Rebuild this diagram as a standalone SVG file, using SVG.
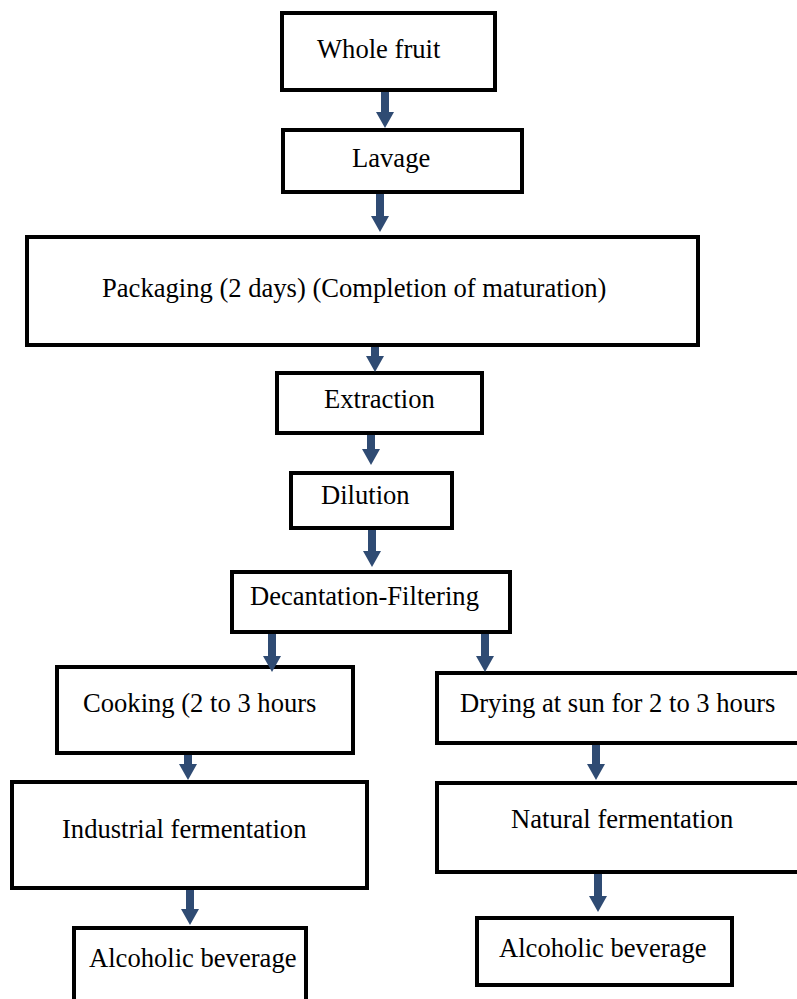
<svg xmlns="http://www.w3.org/2000/svg" width="797" height="999" viewBox="0 0 797 999">
<style>
  .box { fill: #ffffff; stroke: #000000; stroke-width: 4; }
  .lbl { font-family: "Liberation Serif", "Times New Roman", serif; font-size: 26.6px; fill: #000000; }
  .arr { stroke: #2F4B73; stroke-width: 8; fill: none; }
</style>
<defs>
  <marker id="head" markerUnits="userSpaceOnUse" viewBox="0 0 16 18" refX="1" refY="9" markerWidth="16" markerHeight="18" orient="auto">
    <path d="M0,0 L16,9 L0,18 z" fill="#2F4B73"/>
  </marker>
</defs>
<rect width="797" height="999" fill="#ffffff"/>
<g id="n-whole"><rect class="box" x="282" y="13" width="213" height="77"/><text class="lbl" x="317" y="58">Whole fruit</text></g>
<g id="n-lavage"><rect class="box" x="283" y="130" width="239" height="62"/><text class="lbl" x="352" y="167">Lavage</text></g>
<g id="n-packaging"><rect class="box" x="27" y="237" width="671" height="108"/><text class="lbl" x="102" y="297">Packaging (2 days) (Completion of maturation)</text></g>
<g id="n-extraction"><rect class="box" x="277" y="373" width="205" height="60"/><text class="lbl" x="324" y="408">Extraction</text></g>
<g id="n-dilution"><rect class="box" x="291" y="473" width="161" height="55"/><text class="lbl" x="321" y="504">Dilution</text></g>
<g id="n-decantation"><rect class="box" x="232" y="572" width="278" height="60"/><text class="lbl" x="250" y="605">Decantation-Filtering</text></g>
<g id="n-cooking"><rect class="box" x="57" y="667" width="296" height="86"/><text class="lbl" x="83" y="712">Cooking (2 to 3 hours</text></g>
<g id="n-drying"><rect class="box" x="437" y="673" width="380" height="70"/><text class="lbl" x="460" y="712">Drying at sun for 2 to 3 hours</text></g>
<g id="n-industrial"><rect class="box" x="12" y="782" width="355" height="106"/><text class="lbl" x="62" y="838">Industrial fermentation</text></g>
<g id="n-natural"><rect class="box" x="437" y="783" width="380" height="89"/><text class="lbl" x="511" y="828">Natural fermentation</text></g>
<g id="n-alc-left"><rect class="box" x="74" y="928" width="232" height="100"/><text class="lbl" x="89" y="967">Alcoholic beverage</text></g>
<g id="n-alc-right"><rect class="box" x="477" y="918" width="255" height="67"/><text class="lbl" x="499" y="957">Alcoholic beverage</text></g>
<g id="connectors">
  <line class="arr" x1="385" y1="92" x2="385" y2="113" marker-end="url(#head)"/>
  <line class="arr" x1="380" y1="194" x2="380" y2="217" marker-end="url(#head)"/>
  <line class="arr" x1="375" y1="347" x2="375" y2="357" marker-end="url(#head)"/>
  <line class="arr" x1="371" y1="435" x2="371" y2="450" marker-end="url(#head)"/>
  <line class="arr" x1="372" y1="530" x2="372" y2="552" marker-end="url(#head)"/>
  <line class="arr" x1="272" y1="634" x2="272" y2="657" marker-end="url(#head)"/>
  <line class="arr" x1="485" y1="634" x2="485" y2="657" marker-end="url(#head)"/>
  <line class="arr" x1="188" y1="755" x2="188" y2="765" marker-end="url(#head)"/>
  <line class="arr" x1="190" y1="890" x2="190" y2="910" marker-end="url(#head)"/>
  <line class="arr" x1="596" y1="745" x2="596" y2="765" marker-end="url(#head)"/>
  <line class="arr" x1="598" y1="874" x2="598" y2="897" marker-end="url(#head)"/>
</g>
</svg>
